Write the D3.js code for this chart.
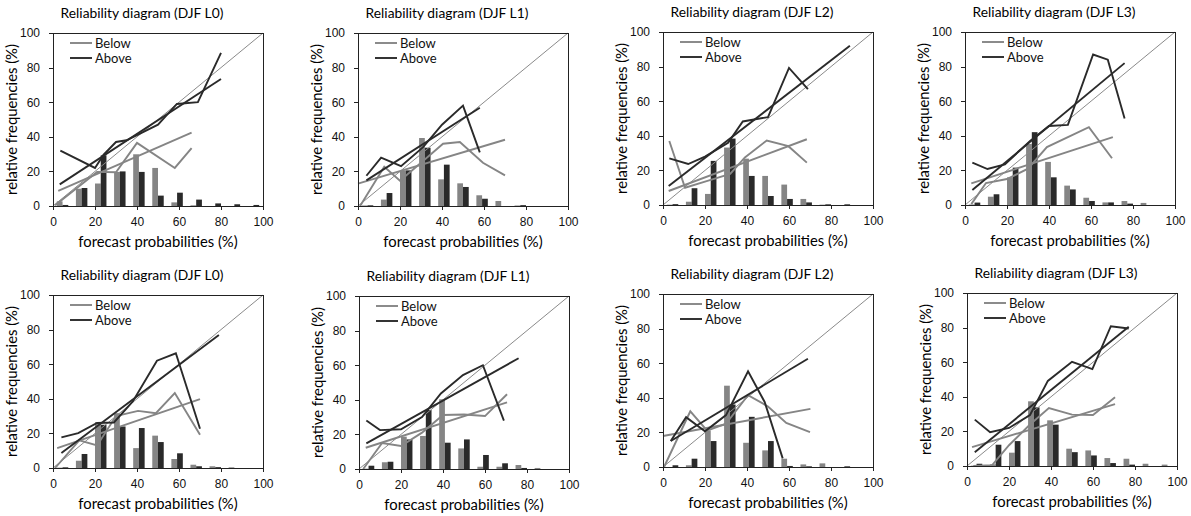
<!DOCTYPE html>
<html>
<head>
<meta charset="utf-8">
<script src="https://cdn.jsdelivr.net/npm/d3@7"></script>
<style>
body { margin: 0; background: #fff; }
svg { display: block; font-family: Lato, "Open Sans", sans-serif; }
.axis path, .axis line { stroke: #222; shape-rendering: crispEdges; }
.axis text { font-size: 12px; fill: #111; }
</style>
</head>
<body>
<svg id="chart" width="1191" height="516"></svg>
<script>
const panelTitles = [
  "Reliability diagram (DJF L0)", "Reliability diagram (DJF L1)",
  "Reliability diagram (DJF L2)", "Reliability diagram (DJF L3)",
  "Reliability diagram (DJF L0)", "Reliability diagram (DJF L1)",
  "Reliability diagram (DJF L2)", "Reliability diagram (DJF L3)"
];
const seriesNames = ["Below", "Above"];
const binLabels = ["0", "10", "20", "30", "40", "50", "60", "70", "80", "90", "100"];
const axisTicks = [0, 20, 40, 60, 80, 100];

// histogram of forecast use (%), one row per panel
const belowBars = [
  [2.7, 10, 13, 19.7, 29.9, 22, 2.1, 0.4, 0, 0, 0],
  [0.3, 3.7, 20.6, 39.3, 15.4, 13.1, 6.2, 2.9, 0.3, 0, 0],
  [0.2, 1.9, 6.4, 33.2, 26.8, 16.8, 11.8, 3.5, 0.2, 0, 0],
  [0.3, 4.8, 16, 35.3, 24.9, 11.2, 4.2, 1.5, 2.3, 1.2, 0],
  [0.2, 4.2, 26.5, 31.7, 11.5, 18.7, 5.2, 1.9, 1, 0.4, 0],
  [0.2, 3.9, 18.7, 19.1, 40.3, 11.9, 1.3, 1.3, 2.3, 0.6, 0],
  [0, 1, 21.1, 47, 14, 9.6, 4.8, 1.5, 2.1, 0, 0],
  [0.2, 1, 7.7, 37.4, 26.4, 10, 9, 4.6, 4.2, 1.3, 0.8]
];
const aboveBars = [
  [0.6, 10.4, 29.3, 20, 19.7, 6, 7.7, 3.7, 1.5, 1, 0.6],
  [0.4, 7.5, 20.6, 33.7, 23.9, 11, 4.2, 0, 0.5, 0, 0],
  [0.5, 9.7, 25.5, 38.4, 16.8, 5.2, 3.5, 1.5, 0.4, 0.4, 0],
  [1.4, 6.2, 21.6, 42.1, 16, 9, 2.3, 1.5, 0.8, 0, 0],
  [0.4, 8.1, 25, 24, 23.1, 15, 8.5, 1, 0.5, 0, 0],
  [1.9, 4.2, 17.1, 34.1, 15.2, 17.1, 8.1, 3.3, 0.6, 0, 0],
  [1, 4.8, 15, 36.1, 29, 15, 0.6, 0.4, 0, 0.4, 0],
  [1.3, 12.3, 14.4, 33.9, 23.9, 8, 6.1, 1.7, 0.8, 0, 0]
];

// reliability curves [forecast prob, observed freq]
const belowCurves = [
  [[1, 0.5], [21, 19.7], [30, 19.5], [40, 36.5], [58, 22], [66, 33.5]],
  [[1, 0], [12.5, 22.7], [20, 14.6], [30, 25], [40.5, 36], [48.5, 37], [59.5, 25], [70, 17.7]],
  [[3, 37], [10.5, 10], [20, 13.5], [32, 18], [39, 27.5], [49.4, 37.3], [59.7, 34], [68.5, 24.5]],
  [[3, 0.5], [10, 12.7], [20, 15], [30, 21], [39, 33.5], [59, 45], [70, 27]],
  [[1, 0], [12.5, 16], [21, 13], [30, 30], [40.5, 33], [49, 31.7], [58, 43.3], [70, 19.2]],
  [[2, 0], [11, 15], [20, 13.3], [30, 21], [40, 31.2], [50, 31.5], [60, 30.6], [70.5, 43.2]],
  [[0.5, 0], [13, 32.2], [21, 21], [30, 25], [40.5, 41.5], [50, 35], [58.7, 25.5], [70, 20.2]],
  [[3, 0], [12, 0.5], [20, 12], [30, 24], [39, 33.5], [50, 29.7], [60, 29.5], [70.5, 39.7]]
];
const aboveCurves = [
  [[3.5, 32], [20, 22], [24, 29.5], [30, 37], [35, 38], [50, 47], [59, 59], [69, 60], [80, 88.5]],
  [[4, 17.5], [11, 28], [20.5, 23], [31, 34], [40, 47], [50, 58], [58, 31]],
  [[3, 27], [12, 23.7], [20, 28], [31, 36], [38, 48.3], [50, 50.8], [60, 79.2], [69, 67]],
  [[3.5, 24.5], [10.7, 20.8], [19, 23.5], [31, 37], [40, 45.7], [49, 46.3], [61, 87], [68, 84], [76, 50]],
  [[4, 17.7], [12, 20.2], [21, 26], [29, 26.3], [38, 38.5], [49.5, 62], [58.5, 66.3], [70, 22.7]],
  [[3.5, 28], [10, 22.5], [20, 23], [30, 30], [39, 43.7], [49.5, 54.3], [59, 60], [69, 28]],
  [[3.7, 15], [11, 28.8], [20, 20.7], [30, 30], [40.5, 55.3], [48.4, 37.6], [57, 5]],
  [[3.7, 26.8], [11, 19.5], [20, 22], [30, 29.5], [38.5, 49.2], [50, 60.2], [59.7, 56], [68.5, 80.8], [77, 79.5]]
];

// linear fits, start and end points
const belowFits = [
  [[2.5, 8.7], [66, 42.4]], [[0, 12.9], [70, 38.3]], [[2.7, 8.1], [68.5, 38]], [[3, 12.5], [70.4, 39.2]],
  [[2, 11.5], [70, 39.8]], [[3.2, 12.3], [70.5, 38.5]], [[0, 17.9], [70.2, 33.6]], [[2.4, 10.9], [70.5, 35.8]]
];
const aboveFits = [
  [[3.2, 12.5], [80, 73.4]], [[4, 14.8], [58, 56.8]], [[2.7, 11], [89, 92]], [[3.5, 8.7], [76, 82]],
  [[4, 8.7], [79, 76.9]], [[3.5, 14.8], [76, 64]], [[3.7, 15], [69, 62.6]], [[3.7, 8], [77, 80.5]]
];

const colors = { Below: "#858585", Above: "#2a2a2a" };

// plot-area boxes of the 8 panels
const layout = [
  { x: 53, y: 33 }, { x: 358, y: 33 }, { x: 663, y: 32 }, { x: 965, y: 32 },
  { x: 53, y: 295 }, { x: 359, y: 296 }, { x: 663, y: 294 }, { x: 967, y: 293 }
];
const W = 210, H = 173;

var svg = d3.select("#chart");

function drawPanel(i) {
  var pos = layout[i];
  var g = svg.append("g").attr("transform", "translate(" + pos.x + "," + pos.y + ")");

  var x = d3.scaleLinear().domain([0, 100]).range([0, W]);
  var y = d3.scaleLinear().domain([0, 100]).range([H, 0]);
  var band = d3.scaleBand().domain(binLabels).range([0, W]).paddingInner(0.4).paddingOuter(0.2);
  var sub = d3.scaleBand().domain(seriesNames).range([0, band.bandwidth()]);

  // bars
  var rows = binLabels.map(function (b, k) {
    return { bin: b, Below: belowBars[i][k], Above: aboveBars[i][k] };
  });
  var grp = g.selectAll(".bin").data(rows).enter().append("g")
    .attr("transform", function (d) { return "translate(" + band(d.bin) + ",0)"; });
  grp.selectAll("rect")
    .data(function (d) { return seriesNames.map(function (s) { return { s: s, v: d[s] }; }); })
    .enter().append("rect")
    .attr("x", function (d) { return sub(d.s); })
    .attr("width", sub.bandwidth())
    .attr("y", function (d) { return y(d.v); })
    .attr("height", function (d) { return H - y(d.v); })
    .attr("fill", function (d) { return colors[d.s]; });

  // perfect reliability
  g.append("line")
    .attr("x1", x(0)).attr("y1", y(0)).attr("x2", x(100)).attr("y2", y(100))
    .attr("stroke", "#8a8a8a").attr("stroke-width", 1);

  var line = d3.line().x(function (d) { return x(d[0]); }).y(function (d) { return y(d[1]); });
  var paths = [
    [belowCurves[i], "Below"], [belowFits[i], "Below"],
    [aboveCurves[i], "Above"], [aboveFits[i], "Above"]
  ];
  paths.forEach(function (p) {
    g.append("path").attr("d", line(p[0]))
      .attr("fill", "none").attr("stroke", colors[p[1]])
      .attr("stroke-width", 1.9).attr("stroke-linejoin", "miter");
  });

  // frame and axes
  g.append("rect").attr("width", W).attr("height", H)
    .attr("fill", "none").attr("stroke", "#222").attr("shape-rendering", "crispEdges");
  g.append("g").attr("class", "axis").attr("transform", "translate(0," + H + ")")
    .call(d3.axisBottom(x).tickValues(axisTicks).tickSize(4).tickPadding(7).tickSizeOuter(0));
  g.append("g").attr("class", "axis")
    .call(d3.axisLeft(y).tickValues(axisTicks).tickSize(4).tickPadding(9).tickSizeOuter(0));

  // legend
  seriesNames.forEach(function (s, k) {
    var ly = 10 + k * 15;
    g.append("line").attr("x1", 17).attr("x2", 39).attr("y1", ly).attr("y2", ly)
      .attr("stroke", colors[s]).attr("stroke-width", 1.9);
    g.append("text").attr("x", 42).attr("y", ly).attr("dy", "0.35em")
      .attr("font-size", 13).attr("fill", "#111").text(s);
  });

  // titles
  g.append("text").attr("x", W / 2 - 16).attr("y", -15.5)
    .attr("text-anchor", "middle").attr("font-size", 13.8).attr("fill", "#000")
    .text(panelTitles[i]);
  g.append("text").attr("x", W / 2).attr("y", H + 41)
    .attr("text-anchor", "middle").attr("font-size", 14.8).attr("fill", "#000")
    .text("forecast probabilities (%)");
  g.append("text")
    .attr("transform", "translate(-36," + H / 2 + ") rotate(-90)")
    .attr("text-anchor", "middle").attr("font-size", 14.8).attr("fill", "#000")
    .text("relative frequencies (%)");
}

for (var i = 0; i < layout.length; i++) drawPanel(i);
</script>
</body>
</html>
